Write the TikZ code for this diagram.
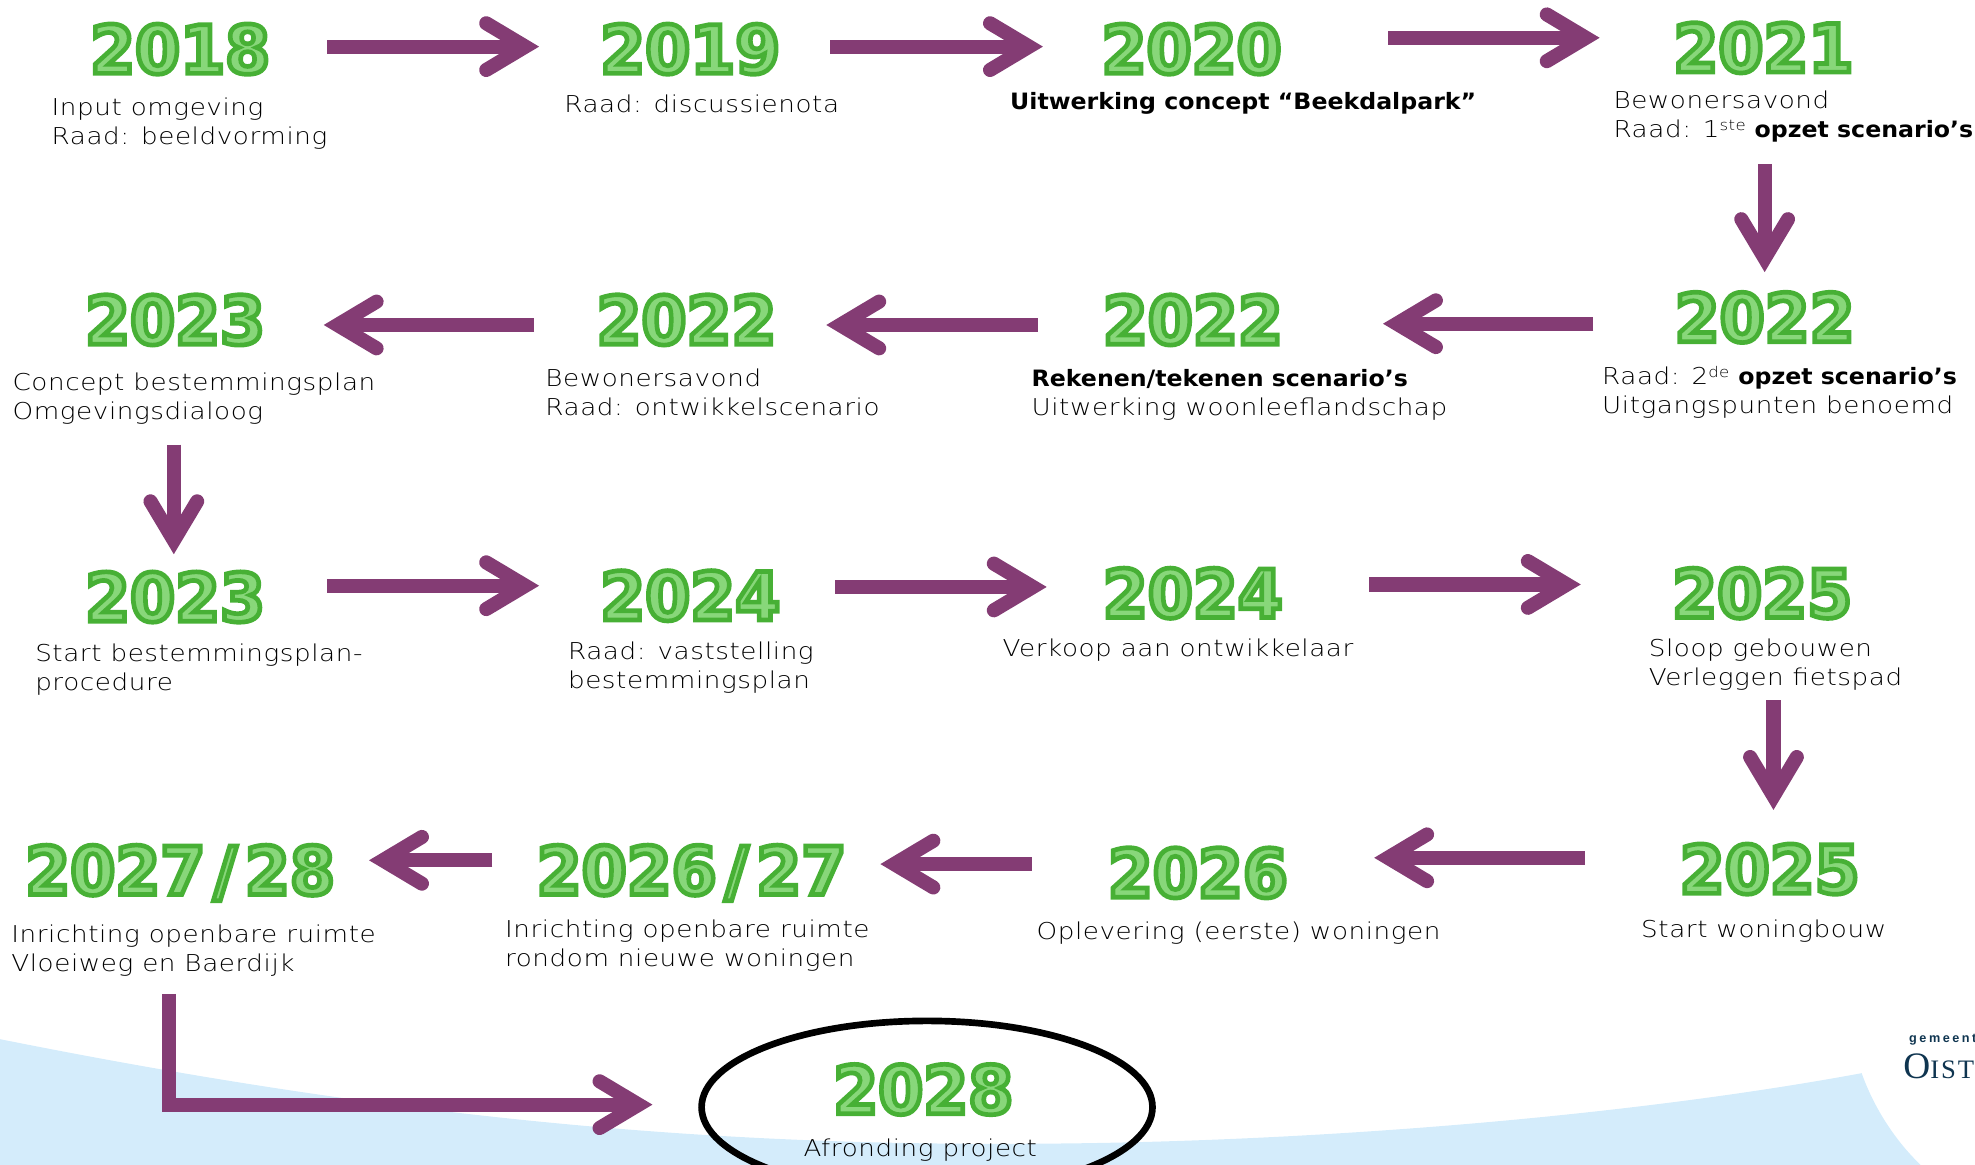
\documentclass[tikz,border=0pt]{standalone}
\usepackage{fontspec}
\usetikzlibrary{arrows.meta,shapes.geometric}
\setmainfont{DejaVu Sans ExtraLight}[LetterSpace=2.5,FakeStretch=1.13]
\newfontfamily\bofont{DejaVu Sans Bold}[FakeStretch=1.05]
\newfontfamily\yearfont{DejaVu Sans Bold}[FakeBold=7,FakeStretch=0.97]
\newfontfamily\logosans{Liberation Sans Bold}[LetterSpace=20]
\newfontfamily\logoserif{Liberation Serif}[LetterSpace=7]
\definecolor{arrowcol}{HTML}{843C74}
\definecolor{bluecol}{HTML}{D4ECFB}
\definecolor{logocol}{HTML}{0F3550}
\newcommand{\yr}[1]{{\fontsize{50}{50}\yearfont\special{pdf:bcolor [0.533 0.843 0.478] [0.278 0.69 0.208]}#1\special{pdf:ecolor}}}
\newcommand{\bo}[1]{{\fontsize{16.9}{21.8}\bofont #1}}
\tikzset{
  yearnode/.style={inner sep=0pt,outer sep=0pt,anchor=center},
  descnode/.style={inner sep=0pt,outer sep=0pt,anchor=base west,align=left,font=\fontsize{17.4}{21.8}\selectfont,text=black},
  flow/.style={draw=arrowcol,line width=10.6pt,-{Straight Barb[length=29.3pt,width=35pt,line cap=round,line join=miter]}},
}
\begin{document}
\begin{tikzpicture}[x=0.9447pt,y=-0.9447pt]
\useasboundingbox (0,0) rectangle (1568,924.13);
\fill[bluecol] (0,825) .. controls (300,885) and (550,910) .. (820,908) .. controls (1050,907) and (1300,885) .. (1478,852) .. controls (1488,880) and (1505,906) .. (1525,925) -- (0,925) -- cycle;
% years
\node[yearnode] (y1) at (143,39) {\yr{2018}};
\node[yearnode] (y2) at (548,39) {\yr{2019}};
\node[yearnode] (y3) at (946,39) {\yr{2020}};
\node[yearnode] (y4) at (1400,38) {\yr{2021}};
\node[yearnode] (y5) at (139,254) {\yr{2023}};
\node[yearnode] (y6) at (545,254) {\yr{2022}};
\node[yearnode] (y7) at (947,254) {\yr{2022}};
\node[yearnode] (y8) at (1401,252) {\yr{2022}};
\node[yearnode] (y9) at (139,474) {\yr{2023}};
\node[yearnode] (y10) at (548,473) {\yr{2024}};
\node[yearnode] (y11) at (947,471) {\yr{2024}};
\node[yearnode] (y12) at (1399,471) {\yr{2025}};
\node[yearnode] (y13) at (143,693) {\yr{2027\kern6pt/\kern6pt 28}};
\node[yearnode] (y14) at (549,693) {\yr{2026\kern6pt/\kern6pt 27}};
\node[yearnode] (y15) at (951,693) {\yr{2026}};
\node[yearnode] (y16) at (1405,690) {\yr{2025}};
\node[ellipse,draw=black,line width=5pt,minimum width=358pt*0.9447,minimum height=137pt*0.9447,inner sep=0pt] (end) at (736,879) {};
\node[yearnode] (y17) at (733,865) {\yr{2028}};
% descriptions
\node[descnode] (d1) at (41,115) {Input omgeving\\Raad: beeldvorming};
\node[descnode] (d2) at (448,89) {Raad: discussienota};
\node[descnode] (d3) at (802,87) {\bo{Uitwerking concept “Beekdalpark”}};
\node[descnode] (d4) at (1281,109) {Bewonersavond\\Raad: 1\raisebox{5pt}{\fontsize{11}{11}\selectfont ste} \bo{opzet scenario’s}};
\node[descnode] (d5) at (10,333) {Concept bestemmingsplan\\Omgevingsdialoog};
\node[descnode] (d6) at (433,330) {Bewonersavond\\Raad: ontwikkelscenario};
\node[descnode] (d7) at (819,330) {\bo{Rekenen/tekenen scenario’s}\\Uitwerking woonleeflandschap};
\node[descnode] (d8) at (1272,328) {Raad: 2\raisebox{5pt}{\fontsize{11}{11}\selectfont de} \bo{opzet scenario’s}\\Uitgangspunten benoemd};
\node[descnode] (d9) at (28,548) {Start bestemmingsplan-\\procedure};
\node[descnode] (d10) at (451,547) {Raad: vaststelling\\bestemmingsplan};
\node[descnode] (d11) at (796,521) {Verkoop aan ontwikkelaar};
\node[descnode] (d12) at (1309,544) {Sloop gebouwen\\Verleggen fietspad};
\node[descnode] (d13) at (9,771) {Inrichting openbare ruimte\\Vloeiweg en Baerdijk};
\node[descnode] (d14) at (401,767) {Inrichting openbare ruimte\\rondom nieuwe woningen};
\node[descnode] (d15) at (823,746) {Oplevering (eerste) woningen};
\node[descnode] (d16) at (1303,744) {Start woningbouw};
\node[descnode] (d17) at (638,918) {Afronding project};
% logo
\node[inner sep=0pt,anchor=base west,text=logocol,font=\fontsize{9.5}{9.5}\logosans] (lg1) at (1515.5,828) {gemeent};
\node[inner sep=0pt,anchor=base west,text=logocol,font=\fontsize{28}{28}\logoserif] (lg2) at (1511,856) {O{\fontsize{20}{20}\selectfont IST}};
% arrows
\coordinate (a1s) at (260,37); \coordinate (a1e) at (428,37);
\coordinate (a2s) at (659,37); \coordinate (a2e) at (828,37);
\coordinate (a3s) at (1102,30); \coordinate (a3e) at (1270,30);
\coordinate (a4s) at (1401,130); \coordinate (a4e) at (1401,216);
\coordinate (a5s) at (1265,257); \coordinate (a5e) at (1098,257);
\coordinate (a6s) at (824,258); \coordinate (a6e) at (656,258);
\coordinate (a7s) at (424,258); \coordinate (a7e) at (257,258);
\coordinate (a8s) at (138,353); \coordinate (a8e) at (138,440);
\coordinate (a9s) at (260,465); \coordinate (a9e) at (428,465);
\coordinate (a10s) at (663,466); \coordinate (a10e) at (831,466);
\coordinate (a11s) at (1087,464); \coordinate (a11e) at (1255,464);
\coordinate (a12s) at (1408,556); \coordinate (a12e) at (1408,643);
\coordinate (a13s) at (1258,681); \coordinate (a13e) at (1091,681);
\coordinate (a14s) at (819,686); \coordinate (a14e) at (699,686);
\coordinate (a15s) at (391,683); \coordinate (a15e) at (293,683);
\coordinate (a16s) at (134,789); \coordinate (a16c) at (134,877); \coordinate (a16e) at (518,877);
\foreach \i in {1,...,15} {\draw[flow] (a\i s) -- (a\i e);}
\draw[flow,line join=miter] (a16s) -- (a16c) -- (a16e);
\end{tikzpicture}
\end{document}
